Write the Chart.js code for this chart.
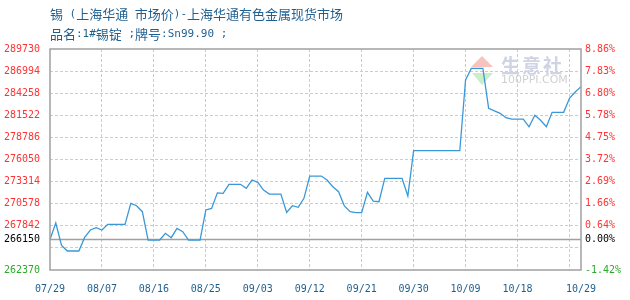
<!DOCTYPE html>
<html>
<head>
<meta charset="utf-8">
<script src="https://cdn.jsdelivr.net/npm/chart.js@4/dist/chart.umd.min.js"></script>
<style>
    html, body { margin: 0; padding: 0; background: #fff; }
    #wrap { width: 630px; height: 300px; }
</style>
</head>
<body>
<div id="wrap"><canvas id="tin-chart" width="630" height="300"></canvas></div>
<script>
// Title lines
const titleLines = ['锡 (上海华通 市场价)-上海华通有色金属现货市场', '品名:1#锡锭 ;牌号:Sn99.90 ;'];

// Calendar days on the x axis
const days = [
    '07/29', '07/30', '07/31',
    '08/01', '08/02', '08/03', '08/04', '08/05', '08/06', '08/07', '08/08', '08/09', '08/10',
    '08/11', '08/12', '08/13', '08/14', '08/15', '08/16', '08/17', '08/18', '08/19', '08/20',
    '08/21', '08/22', '08/23', '08/24', '08/25', '08/26', '08/27', '08/28', '08/29', '08/30', '08/31',
    '09/01', '09/02', '09/03', '09/04', '09/05', '09/06', '09/07', '09/08', '09/09', '09/10',
    '09/11', '09/12', '09/13', '09/14', '09/15', '09/16', '09/17', '09/18', '09/19', '09/20',
    '09/21', '09/22', '09/23', '09/24', '09/25', '09/26', '09/27', '09/28', '09/29', '09/30',
    '10/01', '10/02', '10/03', '10/04', '10/05', '10/06', '10/07', '10/08', '10/09', '10/10',
    '10/11', '10/12', '10/13', '10/14', '10/15', '10/16', '10/17', '10/18', '10/19', '10/20',
    '10/21', '10/22', '10/23', '10/24', '10/25', '10/26', '10/27', '10/28', '10/29'
];

// Daily price (yuan/ton)
const prices = [
    266150, 268190, 265400,
    264720, 264720, 264720, 266400, 267320, 267600, 267320, 268020, 268020, 268020,
    268020, 270630, 270330, 269590, 266080, 266080, 266080, 266910, 266370, 267530,
    267120, 266080, 266080, 266080, 269800, 270000, 271920, 271860, 272980, 272980, 272980,
    272480, 273510, 273220, 272270, 271770, 271770, 271770, 269510, 270330, 270130,
    271240, 274000, 274000, 274000, 273510, 272680, 272060, 270300, 269590, 269470,
    269470, 271990, 270900, 270820, 273720, 273720, 273720, 273720, 271530, 277140,
    277140, 277140, 277140, 277140, 277140, 277140, 277140, 277140, 285890, 287330,
    287330, 287330, 282380, 282060, 281770, 281220, 281060, 281060, 281060, 280100,
    281520, 280900, 280100, 281890, 281890, 281890, 283620, 284400, 285070
];

// Dates that get a label, and dates that get a vertical grid line
const xTickLabels = ['07/29', '08/07', '08/16', '08/25', '09/03', '09/12', '09/21', '09/30', '10/09', '10/18', '10/29'];
const xGridDates = ['08/07', '08/16', '08/25', '09/03', '09/12', '09/21', '09/30', '10/09', '10/18', '10/27'];

// Value axis range, step and the 0% reference price
const yMin = 262370;
const yMax = 289730;
const yStep = 2736;
const baseValue = prices[0];

const monoFont = { family: '"DejaVu Sans Mono", monospace', size: 10 };

function tickColor(value) {
    if (value === baseValue) return '#000000';
    if (value < baseValue) return '#2ea82e';
    return '#ff3333';
}

// hide a label that would collide with the reference label
function hiddenTick(value) {
    return value !== baseValue && Math.abs(value - baseValue) < yStep / 2;
}

function addBaseTick(scale) {
    scale.ticks.push({ value: baseValue });
    scale.ticks.sort((a, b) => a.value - b.value);
}

// draw a line of text with half-width latin and full-width chinese characters
function drawMixed(ctx, text, x, y) {
    let run = '';
    let runAscii = null;
    const flush = () => {
        if (!run) return;
        ctx.font = runAscii ? '11px "DejaVu Sans Mono"' : '13px "Noto Sans CJK SC"';
        ctx.fillText(run, x, y);
        x += ctx.measureText(run).width;
        run = '';
    };
    for (const ch of text) {
        const ascii = ch.charCodeAt(0) < 128;
        if (ascii !== runAscii) {
            flush();
            runAscii = ascii;
        }
        run += ch;
    }
    flush();
}

// frame, reference line, watermark and title
const framePlugin = {
    id: 'frame',
    beforeDatasetsDraw(chart) {
        const { ctx, chartArea: a, scales } = chart;
        ctx.save();

        // watermark logo
        ctx.fillStyle = '#f6c3bd';
        ctx.beginPath();
        ctx.moveTo(482, 56); ctx.lineTo(493, 67); ctx.lineTo(471, 67);
        ctx.closePath(); ctx.fill();
        ctx.fillStyle = '#c9eec9';
        ctx.beginPath();
        ctx.moveTo(472, 73); ctx.lineTo(493, 73); ctx.lineTo(482, 85);
        ctx.closePath(); ctx.fill();
        ctx.fillStyle = '#cfd3e3';
        ctx.font = 'bold 19px "Noto Sans CJK SC"';
        ctx.textBaseline = 'middle';
        ctx.textAlign = 'left';
        ['生', '意', '社'].forEach((ch, i) => ctx.fillText(ch, 501 + i * 21, 66));
        ctx.fillStyle = '#d0d0d0';
        ctx.font = '11px "DejaVu Sans"';
        ctx.fillText('100PPI.COM', 501, 80);

        // 0% reference line
        const yb = Math.round(scales.y.getPixelForValue(baseValue)) + 0.5;
        ctx.strokeStyle = '#a0a0a0';
        ctx.lineWidth = 1.5;
        ctx.beginPath();
        ctx.moveTo(a.left, yb);
        ctx.lineTo(a.right, yb);
        ctx.stroke();
        ctx.restore();
    },
    afterDraw(chart) {
        const { ctx, chartArea: a } = chart;
        ctx.save();
        ctx.strokeStyle = '#a0a0a0';
        ctx.lineWidth = 1.5;
        ctx.strokeRect(a.left, a.top, a.right - a.left, a.bottom - a.top);

        ctx.fillStyle = '#1f5f8f';
        ctx.textAlign = 'left';
        ctx.textBaseline = 'middle';
        drawMixed(ctx, titleLines[0], 50, 14);
        drawMixed(ctx, titleLines[1], 50, 34);
        ctx.restore();
    }
};

function drawChart() {
    const ctx = document.getElementById('tin-chart').getContext('2d');
    new Chart(ctx, {
        type: 'line',
        data: {
            labels: days,
            datasets: [{
                data: prices,
                borderColor: '#3a98d8',
                borderWidth: 1.3,
                pointRadius: 0,
                tension: 0,
                fill: false
            }]
        },
        options: {
            responsive: false,
            animation: false,
            layout: { padding: { top: 49, left: 0, right: 0, bottom: 0 } },
            plugins: {
                legend: { display: false },
                tooltip: { enabled: false }
            },
            scales: {
                x: {
                    type: 'category',
                    offset: false,
                    grid: {
                        drawTicks: false,
                        color: c => xGridDates.includes(days[c.index]) ? '#cccccc' : 'rgba(0,0,0,0)'
                    },
                    border: { display: false, dash: [3, 2] },
                    ticks: {
                        autoSkip: false,
                        maxRotation: 0,
                        padding: 13,
                        color: '#1f5f8f',
                        font: monoFont,
                        callback: (v, i) => xTickLabels.includes(days[i]) ? days[i] : ''
                    },
                    afterFit: s => { s.height = 30; }
                },
                y: {
                    position: 'left',
                    min: yMin,
                    max: yMax,
                    afterBuildTicks: addBaseTick,
                    grid: {
                        drawTicks: false,
                        color: c => {
                            const v = c.tick.value;
                            return (v === baseValue || v === yMin || v === yMax) ? 'rgba(0,0,0,0)' : '#cccccc';
                        }
                    },
                    border: { display: false, dash: [3, 2] },
                    ticks: {
                        stepSize: yStep,
                        padding: 10,
                        font: monoFont,
                        color: c => tickColor(c.tick.value),
                        callback: v => hiddenTick(v) ? '' : String(v)
                    },
                    afterFit: s => { s.width = 50; }
                },
                y2: {
                    position: 'right',
                    min: yMin,
                    max: yMax,
                    afterBuildTicks: addBaseTick,
                    grid: { display: false, drawTicks: false },
                    border: { display: false },
                    ticks: {
                        stepSize: yStep,
                        padding: 4,
                        font: monoFont,
                        color: c => tickColor(c.tick.value),
                        callback: v => hiddenTick(v) ? '' : ((v / baseValue - 1) * 100).toFixed(2) + '%'
                    },
                    afterFit: s => { s.width = 49; }
                }
            }
        },
        plugins: [framePlugin]
    });
}

window.addEventListener('load', drawChart, false);
</script>
</body>
</html>
